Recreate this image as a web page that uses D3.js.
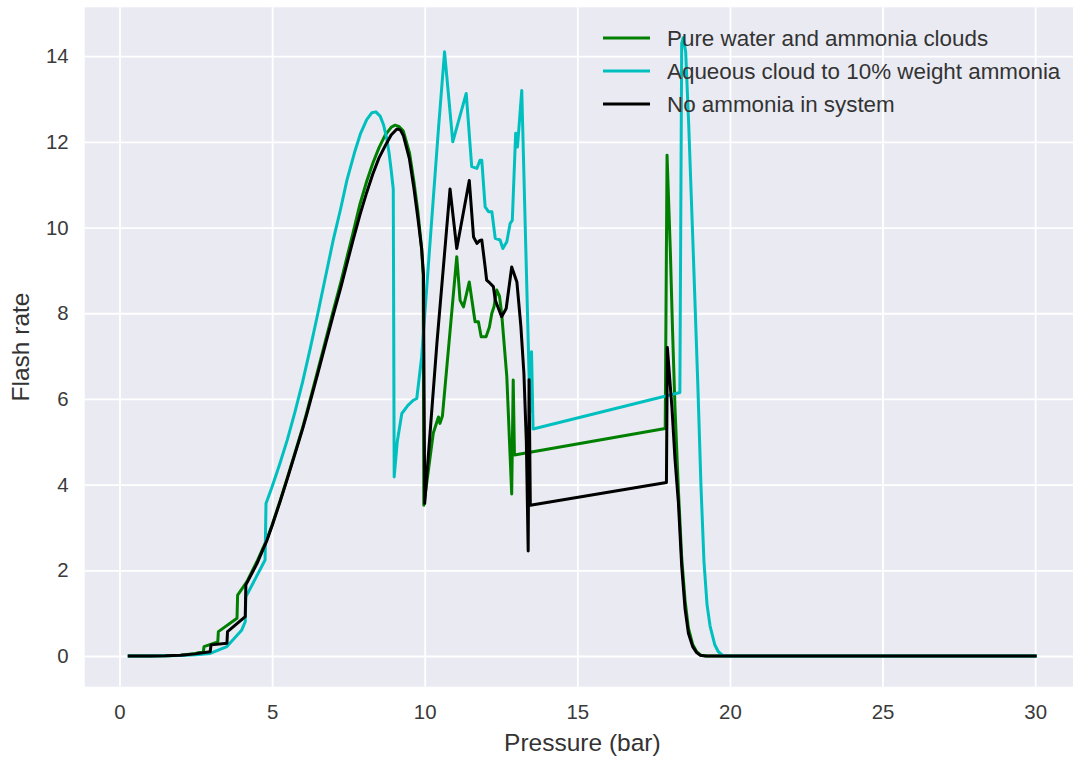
<!DOCTYPE html>
<html>
<head>
<meta charset="utf-8">
<script src="https://cdn.jsdelivr.net/npm/d3@7"></script>
<style>
  html, body { margin: 0; padding: 0; background: #ffffff; }
  svg { display: block; }
  text { font-family: "Liberation Sans", Arial, sans-serif; fill: #333333; }
</style>
</head>
<body>
<svg id="chart" width="1073" height="758"></svg>
<script>
// Pressure (bar) and flash rate for each cloud scenario
const pureP = [0.32, 1.0, 1.5, 2.0, 2.5, 2.75, 2.77, 3.22, 3.24, 3.85, 3.87, 4.17, 4.5, 4.83, 5.0, 5.26, 5.5, 5.7, 6.0, 6.14, 6.5, 6.75, 7.0, 7.25, 7.45, 7.65, 7.88, 8.1, 8.3, 8.5, 8.7, 8.9, 9.03, 9.15, 9.3, 9.5, 9.65, 9.78, 9.9, 9.95, 9.97, 10.28, 10.45, 10.5, 10.58, 11.05, 11.16, 11.27, 11.46, 11.65, 11.76, 11.85, 12.01, 12.12, 12.2, 12.27, 12.36, 12.45, 12.52, 12.69, 12.85, 12.9, 12.94, 17.88, 17.94, 18.05, 18.12, 18.2, 18.31, 18.42, 18.53, 18.64, 18.78, 18.91, 19.05, 19.25, 30.0];
const pureRate = [0, 0.002, 0.006, 0.02, 0.06, 0.11, 0.22, 0.33, 0.57, 0.88, 1.42, 1.73, 2.2, 2.72, 3.06, 3.62, 4.16, 4.63, 5.33, 5.7, 6.67, 7.36, 8.05, 8.72, 9.3, 9.87, 10.55, 11.08, 11.5, 11.86, 12.15, 12.34, 12.39, 12.36, 12.25, 11.75, 11.05, 10.35, 9.5, 8.9, 3.52, 5.2, 5.58, 5.43, 5.6, 9.32, 8.3, 8.15, 8.73, 7.8, 7.8, 7.45, 7.45, 7.68, 8.0, 8.15, 8.54, 8.4, 8.0, 6.52, 3.78, 6.44, 4.69, 5.31, 11.69, 9.4, 7.6, 5.8, 3.9, 2.3, 1.3, 0.65, 0.27, 0.1, 0.02, 0, 0];

const aqueousP = [0.32, 1.0, 1.5, 2.0, 2.5, 2.97, 3.52, 4.0, 4.12, 4.14, 4.77, 4.8, 5.0, 5.25, 5.5, 5.75, 6.0, 6.25, 6.5, 6.75, 7.0, 7.25, 7.45, 7.7, 7.9, 8.1, 8.27, 8.4, 8.54, 8.65, 8.75, 8.83, 8.9, 8.97, 9.0, 9.1, 9.25, 9.45, 9.63, 9.74, 9.9, 10.18, 10.45, 10.65, 10.92, 11.36, 11.54, 11.71, 11.81, 11.87, 11.98, 12.09, 12.2, 12.31, 12.47, 12.56, 12.69, 12.8, 12.87, 12.98, 13.04, 13.18, 13.45, 13.5, 13.55, 18.36, 18.42, 18.47, 18.55, 18.65, 18.8, 18.95, 19.05, 19.15, 19.25, 19.35, 19.5, 19.62, 19.75, 19.9, 30.0];
const aqueousRate = [0, 0.001, 0.004, 0.012, 0.03, 0.06, 0.22, 0.6, 0.8, 1.38, 2.24, 3.56, 3.95, 4.48, 5.05, 5.7, 6.4, 7.18, 8.0, 8.85, 9.7, 10.45, 11.1, 11.75, 12.2, 12.52, 12.68, 12.7, 12.6, 12.4, 12.1, 11.75, 11.35, 10.9, 4.18, 5.0, 5.66, 5.85, 5.97, 6.01, 6.98, 9.7, 12.3, 14.1, 12.0, 13.13, 11.42, 11.38, 11.57, 11.57, 10.48, 10.37, 10.37, 9.75, 9.71, 9.51, 9.67, 10.1, 10.17, 12.2, 11.88, 13.2, 5.7, 7.1, 5.3, 6.15, 14.3, 14.43, 14.1, 12.4, 9.4, 6.3, 4.0, 2.2, 1.2, 0.7, 0.27, 0.1, 0.02, 0, 0];

const noAmmoniaP = [0.32, 1.0, 1.5, 2.0, 2.48, 2.97, 3.0, 3.52, 3.54, 4.12, 4.14, 4.5, 4.83, 5.0, 5.26, 5.5, 5.7, 6.0, 6.14, 6.5, 6.75, 7.0, 7.25, 7.45, 7.65, 7.88, 8.1, 8.3, 8.5, 8.7, 8.9, 9.09, 9.2, 9.3, 9.5, 9.65, 9.78, 9.9, 9.96, 10.0, 10.4, 10.83, 11.05, 11.46, 11.6, 11.71, 11.81, 11.87, 11.98, 12.03, 12.14, 12.25, 12.31, 12.52, 12.67, 12.85, 13.02, 13.15, 13.25, 13.33, 13.39, 13.42, 13.46, 17.92, 17.95, 18.1, 18.2, 18.31, 18.42, 18.53, 18.64, 18.78, 18.91, 19.02, 19.2, 30.0];
const noAmmoniaRate = [0, 0.002, 0.006, 0.02, 0.05, 0.1, 0.26, 0.3, 0.57, 0.92, 1.66, 2.15, 2.7, 3.04, 3.6, 4.14, 4.6, 5.3, 5.65, 6.6, 7.28, 7.95, 8.6, 9.15, 9.7, 10.3, 10.82, 11.25, 11.62, 11.9, 12.16, 12.3, 12.28, 12.15, 11.6, 10.9, 10.2, 9.5, 8.9, 3.56, 7.3, 10.9, 9.51, 11.1, 9.78, 9.63, 9.7, 9.71, 9.08, 8.77, 8.7, 8.62, 8.31, 7.92, 8.11, 9.08, 8.73, 7.7, 6.6, 5.0, 2.45, 6.45, 3.52, 4.05, 7.2, 5.8, 4.6, 3.6, 2.1, 1.1, 0.53, 0.22, 0.08, 0.02, 0, 0];

const seriesNames = ["Pure water and ammonia clouds", "Aqueous cloud to 10% weight ammonia", "No ammonia in system"];
const seriesColors = ["#008000", "#00bfbf", "#000000"];
const xTicks = [0, 5, 10, 15, 20, 25, 30];
const yTicks = [0, 2, 4, 6, 8, 10, 12, 14];

const series = [
  { name: seriesNames[0], color: seriesColors[0], p: pureP, r: pureRate },
  { name: seriesNames[1], color: seriesColors[1], p: aqueousP, r: aqueousRate },
  { name: seriesNames[2], color: seriesColors[2], p: noAmmoniaP, r: noAmmoniaRate }
];

const svg = d3.select("#chart");
const plot = { left: 84.7, right: 1080, top: 7.3, bottom: 686.7 };

const x = d3.scaleLinear().domain([-1.14, 31.47]).range([plot.left, plot.right]);
const y = d3.scaleLinear().domain([-0.716, 15.14]).range([plot.bottom, plot.top]);

svg.append("defs").append("clipPath").attr("id", "plotClip")
  .append("rect")
  .attr("x", plot.left).attr("y", plot.top)
  .attr("width", plot.right - plot.left).attr("height", plot.bottom - plot.top);

// axes background
svg.append("rect")
  .attr("x", plot.left).attr("y", plot.top)
  .attr("width", plot.right - plot.left).attr("height", plot.bottom - plot.top)
  .attr("fill", "#eaeaf2");

// grid via axes with full-length ticks
const xAxis = d3.axisBottom(x).tickValues(xTicks).tickSize(-(plot.bottom - plot.top)).tickPadding(12).tickFormat(d3.format("d"));
const yAxis = d3.axisLeft(y).tickValues(yTicks).tickSize(-(plot.right - plot.left)).tickPadding(14).tickFormat(d3.format("d"));

const gx = svg.append("g").attr("transform", `translate(0,${plot.bottom})`).call(xAxis);
const gy = svg.append("g").attr("transform", `translate(${plot.left},0)`).call(yAxis);

[gx, gy].forEach(g => {
  g.select(".domain").remove();
  g.selectAll(".tick line").attr("stroke", "#ffffff").attr("stroke-width", 1.8);
  g.selectAll(".tick text").attr("font-size", "20.4px").style("fill", "#3a3a3a")
    .attr("font-family", "'Liberation Sans', Arial, sans-serif");
});
gx.selectAll(".tick text").attr("dy", "0.71em").attr("y", 18);
gy.selectAll(".tick text").attr("x", -16);

// series lines
const line = d3.line()
  .x(d => x(d[0]))
  .y(d => y(d[1]));

const lines = svg.append("g").attr("clip-path", "url(#plotClip)");
series.forEach(s => {
  const pts = s.p.map((p, i) => [p, s.r[i]]);
  lines.append("path")
    .datum(pts)
    .attr("d", line)
    .attr("fill", "none")
    .attr("stroke", s.color)
    .attr("stroke-width", 3)
    .attr("stroke-linejoin", "round")
    .attr("stroke-linecap", "square");
});

// axis labels
svg.append("text")
  .attr("x", (plot.left + plot.right) / 2)
  .attr("y", 751)
  .attr("text-anchor", "middle")
  .attr("font-size", "24.5px")
  .text("Pressure (bar)");

svg.append("text")
  .attr("transform", `translate(29,${(plot.top + plot.bottom) / 2}) rotate(-90)`)
  .attr("text-anchor", "middle")
  .attr("font-size", "24.5px")
  .text("Flash rate");

// legend
const legend = svg.append("g");
series.forEach((s, i) => {
  const cy = 38 + i * 33;
  legend.append("line")
    .attr("x1", 603).attr("x2", 650)
    .attr("y1", cy).attr("y2", cy)
    .attr("stroke", s.color).attr("stroke-width", 3);
  legend.append("text")
    .attr("x", 667).attr("y", cy)
    .attr("dy", "0.36em")
    .attr("font-size", "22.4px")
    .text(s.name);
});
</script>
</body>
</html>
